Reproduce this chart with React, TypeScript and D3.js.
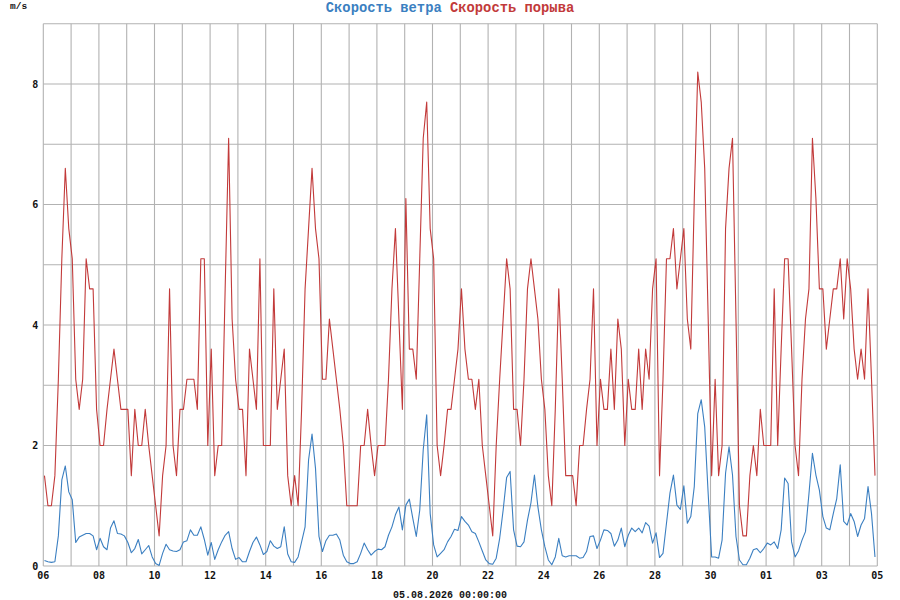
import { useEffect, useRef } from 'react'
import * as d3 from 'd3'

// 3-hourly observations from 06.07.2026, one row per day (8 values)
const windSpeed = [
  0.09, 0.07, 0.06, 0.07, 0.5, 1.43, 1.66, 1.23,
  1.1, 0.39, 0.48, 0.51, 0.54, 0.54, 0.5, 0.27,
  0.46, 0.32, 0.27, 0.63, 0.75, 0.54, 0.53, 0.5,
  0.39, 0.22, 0.29, 0.44, 0.2, 0.27, 0.34, 0.15,
  0.04, 0.01, 0.21, 0.36, 0.27, 0.25, 0.24, 0.27,
  0.4, 0.42, 0.6, 0.51, 0.51, 0.65, 0.44, 0.18,
  0.39, 0.11, 0.27, 0.4, 0.51, 0.57, 0.29, 0.11,
  0.14, 0.07, 0.07, 0.24, 0.39, 0.48, 0.35, 0.19,
  0.24, 0.42, 0.33, 0.29, 0.32, 0.65, 0.2, 0.07,
  0.06, 0.15, 0.4, 0.65, 1.76, 2.19, 1.62, 0.49,
  0.24, 0.42, 0.51, 0.51, 0.53, 0.43, 0.18, 0.07,
  0.04, 0.04, 0.07, 0.21, 0.38, 0.27, 0.18, 0.24,
  0.28, 0.27, 0.32, 0.51, 0.65, 0.85, 0.98, 0.6,
  1.01, 1.11, 0.79, 0.49, 0.93, 1.93, 2.51, 0.87,
  0.35, 0.15, 0.21, 0.27, 0.4, 0.49, 0.61, 0.59,
  0.82, 0.74, 0.68, 0.57, 0.54, 0.4, 0.25, 0.1,
  0.04, 0.03, 0.13, 0.46, 0.93, 1.47, 1.57, 0.6,
  0.33, 0.32, 0.4, 0.76, 1.05, 1.51, 0.98, 0.6,
  0.32, 0.1, 0.02, 0.15, 0.46, 0.17, 0.15, 0.17,
  0.17, 0.17, 0.13, 0.14, 0.24, 0.49, 0.5, 0.29,
  0.43, 0.6, 0.59, 0.54, 0.33, 0.43, 0.63, 0.32,
  0.51, 0.63, 0.57, 0.63, 0.55, 0.72, 0.66, 0.38,
  0.55, 0.14, 0.21, 0.71, 1.21, 1.51, 1.01, 0.94,
  1.33, 0.71, 0.82, 1.32, 2.53, 2.76, 2.31, 1.2,
  0.15, 0.15, 0.13, 0.43, 1.54, 1.98, 1.51, 0.49,
  0.1, 0.02, 0.02, 0.13, 0.27, 0.29, 0.22, 0.29,
  0.38, 0.35, 0.4, 0.29, 0.6, 1.46, 1.37, 0.4,
  0.15, 0.25, 0.43, 0.57, 1.2, 1.87, 1.51, 1.26,
  0.82, 0.63, 0.6, 0.87, 1.12, 1.68, 0.74, 0.68,
  0.87, 0.74, 0.49, 0.68, 0.79, 1.32, 0.87, 0.15,
]

const gustSpeed = [
  1.5, 1.0, 1.0, 1.5, 3.1, 5.1, 6.6, 5.6,
  5.1, 3.1, 2.6, 3.1, 5.1, 4.6, 4.6, 2.6,
  2.0, 2.0, 2.6, 3.1, 3.6, 3.1, 2.6, 2.6,
  2.6, 1.5, 2.6, 2.0, 2.0, 2.6, 2.0, 1.5,
  1.0, 0.5, 1.5, 2.0, 4.6, 2.0, 1.5, 2.6,
  2.6, 3.1, 3.1, 3.1, 2.6, 5.1, 5.1, 2.0,
  3.6, 1.5, 2.0, 2.0, 4.6, 7.1, 4.1, 3.1,
  2.6, 2.6, 1.5, 3.6, 3.1, 2.6, 5.1, 2.0,
  2.0, 2.0, 4.6, 2.6, 3.1, 3.6, 1.5, 1.0,
  1.5, 1.0, 2.6, 4.6, 5.6, 6.6, 5.6, 5.1,
  3.1, 3.1, 4.1, 3.6, 3.1, 2.6, 2.0, 1.0,
  1.0, 1.0, 1.0, 2.0, 2.0, 2.6, 2.0, 1.5,
  2.0, 2.0, 2.0, 3.1, 4.6, 5.6, 4.1, 2.6,
  6.1, 3.6, 3.6, 3.1, 5.1, 7.1, 7.7, 5.6,
  5.1, 2.0, 1.5, 2.0, 2.6, 2.6, 3.1, 3.6,
  4.6, 3.6, 3.1, 3.1, 2.6, 3.1, 2.0, 1.5,
  1.0, 0.5, 2.0, 3.1, 4.1, 5.1, 4.6, 2.6,
  2.6, 2.0, 3.1, 4.6, 5.1, 4.6, 4.1, 3.1,
  2.6, 1.5, 1.0, 2.6, 4.6, 3.1, 1.5, 1.5,
  1.5, 1.0, 2.0, 2.0, 2.6, 3.1, 4.6, 2.0,
  3.1, 2.6, 2.6, 3.6, 2.6, 4.1, 3.6, 2.0,
  3.1, 2.6, 2.6, 3.6, 2.6, 3.6, 3.1, 4.6,
  5.1, 1.5, 3.1, 5.1, 5.1, 5.6, 4.6, 5.1,
  5.6, 4.1, 3.6, 6.1, 8.2, 7.7, 6.6, 4.1,
  1.5, 3.1, 1.5, 2.0, 5.6, 6.6, 7.1, 4.1,
  1.0, 0.5, 0.5, 1.5, 2.0, 1.5, 2.6, 2.0,
  2.0, 2.0, 4.6, 2.0, 3.6, 5.1, 5.1, 3.6,
  2.0, 1.5, 3.1, 4.1, 4.6, 7.1, 6.1, 4.6,
  4.6, 3.6, 4.1, 4.6, 4.6, 5.1, 4.1, 5.1,
  4.6, 3.6, 3.1, 3.6, 3.1, 4.6, 3.1, 1.5,
]

const seriesNames = ['Скорость ветра', 'Скорость порыва']
const seriesColors = ['#3b7fc1', '#c23a3a']
const unitLabel = 'm/s'
const footerLabel = '05.08.2026 00:00:00'
const yTickLabels = [0, 2, 4, 6, 8]
const yMax = 9

const firstObs = new Date(2026, 6, 6, 1)
const stepHours = 3
const rangeStart = new Date(2026, 6, 6)
const rangeEnd = new Date(2026, 7, 5)

const obsTime = (i: number) => new Date(firstObs.getTime() + i * stepHours * 3600e3)

export default function App() {
  const svgRef = useRef<SVGSVGElement>(null)

  useEffect(() => {
    if (!svgRef.current) return
    const width = 900
    const height = 600
    const m = { top: 23.75, right: 22.7, bottom: 34, left: 43.3 }

    const svg = d3.select(svgRef.current)
    svg.selectAll('*').remove()
    svg.attr('width', width).attr('height', height)

    const x = d3.scaleTime().domain([rangeStart, rangeEnd]).range([m.left, width - m.right])
    const y = d3.scaleLinear().domain([0, yMax]).range([height - m.bottom, m.top])

    const gridColor = '#b2b2b2'
    const days = d3.timeDay.range(rangeStart, d3.timeDay.offset(rangeEnd, 1))

    // grid
    const grid = svg.append('g')
    grid.selectAll('line.h').data(d3.range(0, yMax + 1)).enter().append('line')
      .attr('x1', x(rangeStart)).attr('x2', x(rangeEnd))
      .attr('y1', d => y(d)).attr('y2', d => y(d))
      .attr('stroke', gridColor).attr('stroke-width', 1.1)
    grid.selectAll('line.v').data(days).enter().append('line')
      .attr('x1', d => x(d)).attr('x2', d => x(d))
      .attr('y1', y(0)).attr('y2', y(yMax))
      .attr('stroke', gridColor).attr('stroke-width', 1.1)

    // series
    const line = d3.line<number>().x((_, i) => x(obsTime(i))).y(d => y(d))
    svg.append('path').datum(windSpeed)
      .attr('fill', 'none').attr('stroke', seriesColors[0]).attr('stroke-width', 1.1)
      .attr('stroke-linejoin', 'round').attr('d', line)
    svg.append('path').datum(gustSpeed)
      .attr('fill', 'none').attr('stroke', seriesColors[1]).attr('stroke-width', 1.1)
      .attr('stroke-linejoin', 'round').attr('d', line)

    const tickFont = '"DejaVu Sans Mono", monospace'
    const textFont = '"Liberation Mono", "Courier New", monospace'

    // y labels
    svg.append('g').selectAll('text').data(yTickLabels).enter().append('text')
      .attr('x', m.left - 5).attr('y', d => y(d) + 3.5)
      .attr('text-anchor', 'end').attr('font-family', tickFont).attr('font-weight', 'bold')
      .attr('font-size', '10px').attr('fill', '#111').text(d => d)

    // x labels, every second day
    const fmt = d3.timeFormat('%d')
    svg.append('g').selectAll('text').data(days.filter((_, i) => i % 2 === 0)).enter().append('text')
      .attr('x', d => x(d)).attr('y', height - m.bottom + 13)
      .attr('text-anchor', 'middle').attr('font-family', tickFont).attr('font-weight', 'bold')
      .attr('font-size', '10px').attr('fill', '#111').text(d => fmt(d))

    // unit
    svg.append('text').attr('x', 10).attr('y', 9)
      .attr('font-family', textFont).attr('font-weight', 'bold').attr('font-size', '9.5px')
      .attr('fill', '#111').text(unitLabel)

    // title / legend
    const title = svg.append('text').attr('x', width / 2).attr('y', 11.5)
      .attr('text-anchor', 'middle').attr('font-family', textFont).attr('font-weight', 'bold')
      .attr('font-size', '13.8px')
    seriesNames.forEach((name, i) => {
      title.append('tspan').attr('fill', seriesColors[i]).text(i === 0 ? name + ' ' : name)
    })

    // date footer
    svg.append('text').attr('x', width / 2).attr('y', 598)
      .attr('text-anchor', 'middle').attr('font-family', textFont).attr('font-weight', 'bold')
      .attr('font-size', '10px').attr('fill', '#111').text(footerLabel)
  }, [])

  return (
    <svg ref={svgRef} style={{ position: 'absolute', left: 0, top: 0, background: '#fff' }} />
  )
}
